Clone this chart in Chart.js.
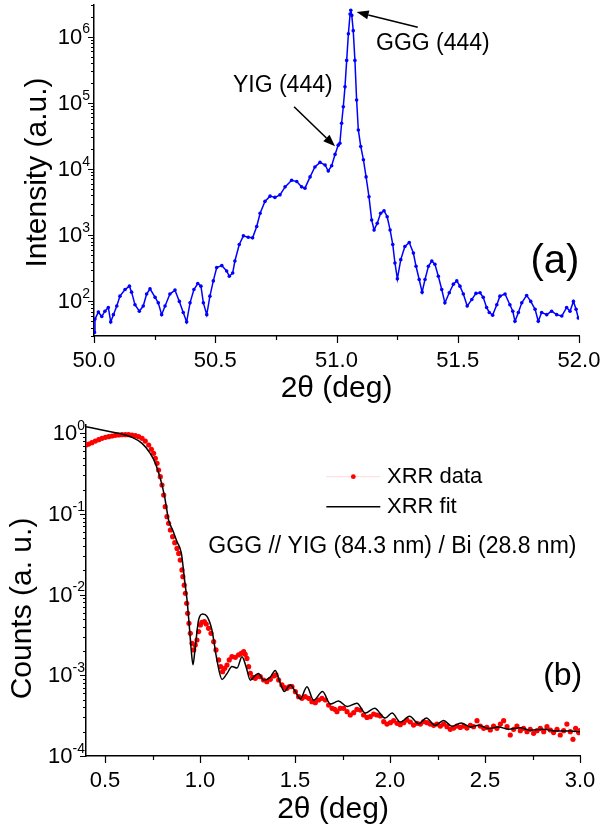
<!DOCTYPE html>
<html>
<head>
<meta charset="utf-8">
<script src="https://cdn.jsdelivr.net/npm/chart.js@4.4.0/dist/chart.umd.min.js"></script>
<style>
  body { margin: 0; background: #fff; }
  #wrap { position: relative; width: 602px; height: 834px; }
  canvas { position: absolute; left: 0; }
  #xrd { top: 0; }
  #xrr { top: 410px; }
</style>
</head>
<body>
<div id="wrap">
  <canvas id="xrd" width="602" height="410"></canvas>
  <canvas id="xrr" width="602" height="424"></canvas>
</div>
<script>
// (a) XRD scan around the (444) reflection
const xrdAngle = [50.002, 50.004, 50.018, 50.032, 50.045, 50.059, 50.069, 50.080, 50.094, 50.107,
  50.128, 50.146, 50.155, 50.169, 50.187, 50.203, 50.217, 50.231, 50.252, 50.265,
  50.279, 50.293, 50.313, 50.334, 50.352, 50.368, 50.382, 50.396, 50.412, 50.428,
  50.441, 50.451, 50.465, 50.478, 50.492, 50.506, 50.527, 50.547, 50.558, 50.572,
  50.581, 50.599, 50.616, 50.636, 50.654, 50.671, 50.685, 50.705, 50.726, 50.746,
  50.767, 50.788, 50.815, 50.836, 50.856, 50.870, 50.891, 50.911, 50.932, 50.953,
  50.966, 50.980, 50.994, 51.007, 51.014, 51.021, 51.028, 51.035, 51.042, 51.049,
  51.056, 51.059, 51.063, 51.069, 51.076, 51.083, 51.090, 51.100, 51.111, 51.122,
  51.134, 51.145, 51.155, 51.168, 51.182, 51.196, 51.209, 51.221, 51.232, 51.241,
  51.251, 51.265, 51.282, 51.300, 51.317, 51.328, 51.341, 51.353, 51.365, 51.379,
  51.393, 51.406, 51.420, 51.434, 51.447, 51.465, 51.482, 51.496, 51.509, 51.523,
  51.539, 51.558, 51.575, 51.592, 51.605, 51.619, 51.630, 51.644, 51.661, 51.674,
  51.695, 51.715, 51.727, 51.736, 51.750, 51.764, 51.784, 51.801, 51.819, 51.832,
  51.846, 51.867, 51.887, 51.908, 51.929, 51.949, 51.963, 51.977, 51.988, 51.997];
const xrdIntensity = [34, 54, 69, 59, 71, 81, 49, 63, 85, 120,
  151, 170, 138, 89, 71, 85, 129, 155, 115, 95,
  63, 85, 129, 148, 100, 68, 49, 95, 151, 186,
  170, 95, 63, 120, 204, 324, 347, 288, 240, 269,
  407, 724, 977, 933, 912, 1350, 2140, 3240, 3890, 3720,
  4070, 5370, 6760, 6460, 5370, 5130, 7590, 10700, 12600, 11500,
  9330, 11200, 16600, 22900, 24500, 49000, 87100, 174000, 437000, 1100000,
  2190000, 2500000, 2090000, 1230000, 437000, 110000, 38900, 21900, 13800, 7590,
  3800, 1700, 1200, 1510, 2140, 2340, 1900, 1200, 724, 380,
  219, 427, 676, 776, 537, 339, 214, 138, 214, 339,
  407, 363, 240, 151, 95, 135, 182, 204, 170, 129,
  85, 107, 132, 135, 115, 81, 68, 62, 89, 120,
  129, 89, 71, 50, 68, 95, 123, 100, 76, 50,
  68, 63, 71, 63, 60, 81, 71, 100, 76, 56];

// (b) XRR measurement
const xrrAngle = [0.400, 0.414, 0.431, 0.449, 0.467, 0.484, 0.502, 0.519, 0.537, 0.554,
  0.572, 0.589, 0.607, 0.624, 0.642, 0.660, 0.677, 0.695, 0.712, 0.730,
  0.744, 0.756, 0.765, 0.774, 0.782, 0.791, 0.800, 0.809, 0.817, 0.826,
  0.835, 0.844, 0.856, 0.867, 0.879, 0.888, 0.896, 0.905, 0.910, 0.917,
  0.923, 0.930, 0.935, 0.942, 0.949, 0.958, 0.967, 0.975, 0.984, 0.993,
  1.002, 1.010, 1.023, 1.033, 1.045, 1.058, 1.072, 1.084, 1.098, 1.109,
  1.119, 1.130, 1.142, 1.154, 1.168, 1.186, 1.203, 1.217, 1.230, 1.238,
  1.247, 1.256, 1.265, 1.277, 1.291, 1.305, 1.317, 1.335, 1.352, 1.370,
  1.388, 1.400, 1.414, 1.431, 1.446, 1.458, 1.470, 1.484, 1.502, 1.519,
  1.537, 1.554, 1.572, 1.589, 1.607, 1.624, 1.642, 1.660, 1.677, 1.695,
  1.709, 1.721, 1.738, 1.756, 1.774, 1.791, 1.809, 1.826, 1.844, 1.861,
  1.879, 1.896, 1.914, 1.931, 1.949, 1.967, 1.984, 2.002, 2.019, 2.037,
  2.054, 2.072, 2.089, 2.107, 2.124, 2.142, 2.160, 2.177, 2.195, 2.212,
  2.230, 2.247, 2.265, 2.282, 2.300, 2.317, 2.335, 2.352, 2.370, 2.388,
  2.405, 2.423, 2.440, 2.458, 2.475, 2.493, 2.510, 2.528, 2.545, 2.563,
  2.581, 2.598, 2.616, 2.633, 2.651, 2.668, 2.686, 2.703, 2.721, 2.738,
  2.756, 2.774, 2.791, 2.809, 2.826, 2.844, 2.861, 2.879, 2.896, 2.914,
  2.931, 2.949, 2.963, 2.977, 2.993, 3.000];
const xrrCounts = [0.714, 0.734, 0.764, 0.800, 0.832, 0.863, 0.889, 0.906, 0.923, 0.941,
  0.950, 0.959, 0.959, 0.959, 0.950, 0.933, 0.906, 0.863, 0.800, 0.714,
  0.631, 0.563, 0.489, 0.424, 0.350, 0.289, 0.228, 0.171, 0.123, 0.0925,
  0.0764, 0.0632, 0.0522, 0.0440, 0.0374, 0.0324, 0.0268, 0.0202, 0.0167, 0.0131,
  0.0104, 0.0078, 0.00586, 0.00441, 0.00331, 0.00249, 0.00206, 0.00238, 0.00274, 0.00348,
  0.00420, 0.00453, 0.00462, 0.00432, 0.00382, 0.00331, 0.00261, 0.00206, 0.00155, 0.00128,
  0.00111, 0.00122, 0.00134, 0.00155, 0.00170, 0.00167, 0.00179, 0.00187, 0.00196, 0.00182,
  0.00162, 0.00128, 0.00106, 0.000944, 0.000917, 0.000980, 0.000962, 0.000874, 0.000834, 0.000891,
  0.000980, 0.00101, 0.000874, 0.000759, 0.000703, 0.000690, 0.000724, 0.000724, 0.000627, 0.000543,
  0.000518, 0.000543, 0.000518, 0.000471, 0.000458, 0.000494, 0.000518, 0.000494, 0.000428, 0.000390,
  0.000379, 0.000354, 0.000390, 0.000390, 0.000354, 0.000322, 0.000344, 0.000379, 0.000371, 0.000322,
  0.000301, 0.000307, 0.000331, 0.000322, 0.000313, 0.000266, 0.000249, 0.000259, 0.000274, 0.000254,
  0.000244, 0.000259, 0.000279, 0.000264, 0.000242, 0.000254, 0.000249, 0.000266, 0.000259, 0.000249,
  0.000240, 0.000249, 0.000235, 0.000249, 0.000231, 0.000214, 0.000222, 0.000235, 0.000226, 0.000235,
  0.000222, 0.000240, 0.000231, 0.000274, 0.000235, 0.000220, 0.000226, 0.000210, 0.000235, 0.000220,
  0.000249, 0.000274, 0.000231, 0.000182, 0.000214, 0.000235, 0.000206, 0.000220, 0.000200, 0.000214,
  0.000191, 0.000206, 0.000220, 0.000200, 0.000231, 0.000210, 0.000195, 0.000214, 0.000182, 0.000206,
  0.000249, 0.000200, 0.000161, 0.000220, 0.000195, 0.000206];

// (b) simulated fit
const fitAngle = [0.400, 0.484, 0.572, 0.642, 0.695, 0.738, 0.765, 0.791, 0.814, 0.835,
  0.856, 0.879, 0.902, 0.919, 0.932, 0.944, 0.954, 0.963, 0.975, 0.993,
  1.014, 1.037, 1.063, 1.089, 1.116, 1.142, 1.168, 1.195, 1.221, 1.242,
  1.265, 1.291, 1.308, 1.335, 1.370, 1.396, 1.423, 1.444, 1.475, 1.502,
  1.528, 1.563, 1.598, 1.645, 1.686, 1.729, 1.774, 1.826, 1.870, 1.919,
  1.975, 2.011, 2.054, 2.103, 2.151, 2.191, 2.238, 2.282, 2.326, 2.374,
  2.423, 2.466, 2.519, 2.572, 2.624, 2.686, 2.738, 2.808, 2.879, 2.949, 3.000];
const fitCounts = [1.205, 1.096, 0.998, 0.889, 0.748, 0.564, 0.424, 0.276, 0.163, 0.0839,
  0.0631, 0.0453, 0.0324, 0.0151, 0.00851, 0.00398, 0.00204, 0.00135, 0.00224, 0.0049,
  0.00575, 0.00537, 0.00363, 0.00155, 0.00089, 0.00105, 0.00129, 0.00123, 0.0017, 0.00129,
  0.00087, 0.001, 0.00105, 0.00087, 0.00095, 0.00115, 0.00079, 0.00063, 0.00076, 0.00063,
  0.00051, 0.00072, 0.00049, 0.00063, 0.00044, 0.00048, 0.00041, 0.00045, 0.00034, 0.00039,
  0.000295, 0.00034, 0.000263, 0.00031, 0.000251, 0.000295, 0.00024, 0.000275, 0.000234, 0.000257,
  0.000229, 0.00024, 0.000219, 0.000229, 0.000214, 0.000224, 0.000209, 0.000214, 0.000204, 0.000204, 0.0002];

const FONT = '"Liberation Sans", Arial, Helvetica, sans-serif';

function toPoints(xs, ys) {
  return xs.map((x, i) => ({ x: x, y: ys[i] }));
}

// tick marks (major + minor) and 10^n labels, drawn on top of the axes
const axisDecor = {
  id: 'axisDecor',
  afterDraw(chart, args, o) {
    const { ctx, chartArea: area, scales: { x, y } } = chart;
    ctx.save();
    ctx.strokeStyle = '#000';
    ctx.lineWidth = 1.2;
    ctx.beginPath();
    o.xMajor.forEach(v => {
      const p = Math.round(x.getPixelForValue(v)) + 0.5;
      ctx.moveTo(p, area.bottom); ctx.lineTo(p, area.bottom + 7);
    });
    o.xMinor.forEach(v => {
      const p = Math.round(x.getPixelForValue(v)) + 0.5;
      ctx.moveTo(p, area.bottom); ctx.lineTo(p, area.bottom + 4);
    });
    const lo = Math.floor(Math.log10(y.min)), hi = Math.ceil(Math.log10(y.max));
    for (let d = lo; d <= hi; d++) {
      for (let k = 1; k < 10; k++) {
        const v = k * Math.pow(10, d);
        if (v < y.min * 0.999 || v > y.max * 1.001) continue;
        const p = Math.round(y.getPixelForValue(v)) + 0.5;
        const len = k === 1 ? 6 : 3;
        ctx.moveTo(area.left - len, p); ctx.lineTo(area.left, p);
      }
    }
    ctx.stroke();

    ctx.fillStyle = '#000';
    ctx.textAlign = 'right';
    ctx.textBaseline = 'middle';
    for (let d = lo; d <= hi; d++) {
      const v = Math.pow(10, d);
      if (v < y.min * 0.999 || v > y.max * 1.001) continue;
      const p = y.getPixelForValue(v);
      const exp = String(d);
      ctx.font = '14px ' + FONT;
      const ew = ctx.measureText(exp).width;
      ctx.fillText(exp, area.left - o.labelGap, p - 7);
      ctx.font = '22px ' + FONT;
      ctx.fillText('10', area.left - o.labelGap - ew, p + 1);
    }

    // rotated y title
    ctx.save();
    ctx.translate(o.yTitleX, (area.top + area.bottom) / 2 + o.yTitleShift);
    ctx.rotate(-Math.PI / 2);
    ctx.textAlign = 'center';
    ctx.font = '30px ' + FONT;
    ctx.fillText(o.yTitle, 0, 0);
    ctx.restore();
    ctx.restore();
  }
};

// free text, arrows and legend placed in data coordinates
const notes = {
  id: 'notes',
  afterDraw(chart, args, o) {
    const { ctx, scales: { x, y } } = chart;
    ctx.save();
    ctx.fillStyle = '#000';
    ctx.strokeStyle = '#000';
    (o.arrows || []).forEach(a => {
      const x0 = x.getPixelForValue(a.from[0]), y0 = y.getPixelForValue(a.from[1]);
      const x1 = x.getPixelForValue(a.to[0]), y1 = y.getPixelForValue(a.to[1]);
      const ang = Math.atan2(y1 - y0, x1 - x0);
      const hl = 12, hw = 4.5;
      ctx.lineWidth = 1.6;
      ctx.beginPath();
      ctx.moveTo(x0, y0);
      ctx.lineTo(x1 - hl * Math.cos(ang), y1 - hl * Math.sin(ang));
      ctx.stroke();
      ctx.beginPath();
      ctx.moveTo(x1, y1);
      ctx.lineTo(x1 - hl * Math.cos(ang) + hw * Math.sin(ang), y1 - hl * Math.sin(ang) - hw * Math.cos(ang));
      ctx.lineTo(x1 - hl * Math.cos(ang) - hw * Math.sin(ang), y1 - hl * Math.sin(ang) + hw * Math.cos(ang));
      ctx.closePath();
      ctx.fill();
    });
    (o.texts || []).forEach(t => {
      ctx.font = t.size + 'px ' + FONT;
      ctx.textAlign = t.align || 'left';
      ctx.textBaseline = 'middle';
      ctx.fillText(t.text, x.getPixelForValue(t.at[0]), y.getPixelForValue(t.at[1]));
    });
    if (o.legend) {
      o.legend.forEach(item => {
        const ly = y.getPixelForValue(item.y);
        const xa = x.getPixelForValue(item.line[0]), xb = x.getPixelForValue(item.line[1]);
        ctx.strokeStyle = item.lineColor;
        ctx.lineWidth = item.lineWidth;
        ctx.beginPath(); ctx.moveTo(xa, ly); ctx.lineTo(xb, ly); ctx.stroke();
        if (item.dot) {
          ctx.fillStyle = item.dot;
          ctx.beginPath(); ctx.arc((xa + xb) / 2, ly, 2.4, 0, Math.PI * 2); ctx.fill();
        }
        ctx.fillStyle = '#000';
        ctx.font = '22px ' + FONT;
        ctx.textAlign = 'left';
        ctx.textBaseline = 'middle';
        ctx.fillText(item.text, x.getPixelForValue(item.textX), ly);
      });
    }
    ctx.restore();
  }
};

function xAxis(min, max, ticks, titlePad, height) {
  return {
    type: 'linear',
    min: min,
    max: max,
    afterBuildTicks: s => { s.ticks = ticks.map(v => ({ value: v })); },
    // fixed box height, and no extra room reserved for the end labels
    afterFit: s => { s.height = height; s.paddingLeft = 0; s.paddingRight = 0; },
    grid: { display: false, drawTicks: false },
    border: { display: true, color: '#000', width: 1.5 },
    ticks: {
      autoSkip: false, maxRotation: 0, padding: 12, color: '#000',
      font: { family: FONT, size: 22 },
      callback: v => v.toFixed(1)
    },
    title: {
      display: true, text: '2\u03b8 (deg)', color: '#000',
      font: { family: FONT, size: 30 }, padding: { top: 0, bottom: titlePad }
    }
  };
}

function yAxis(min, max, width) {
  return {
    type: 'logarithmic',
    min: min,
    max: max,
    afterFit: s => { s.width = width; s.paddingTop = 0; s.paddingBottom = 0; },
    grid: { display: false, drawTicks: false },
    border: { display: true, color: '#000', width: 1.5 },
    ticks: { display: false }
  };
}

Chart.defaults.font.family = FONT;

new Chart(document.getElementById('xrd'), {
  type: 'line',
  data: {
    datasets: [{
      data: toPoints(xrdAngle, xrdIntensity),
      borderColor: '#0000ff',
      backgroundColor: '#0000ff',
      borderWidth: 1.5,
      pointRadius: 1.8,
      pointBorderWidth: 0,
      tension: 0
    }]
  },
  options: {
    responsive: false,
    animation: false,
    devicePixelRatio: 1,
    layout: { padding: { left: 0, right: 23, top: 5, bottom: 0 } },
    scales: {
      x: xAxis(50, 52, [50, 50.5, 51, 51.5, 52], 3, 74),
      y: yAxis(30, 3e6, 94)
    },
    plugins: {
      legend: { display: false },
      tooltip: { enabled: false },
      axisDecor: {
        xMajor: [50, 50.5, 51, 51.5, 52],
        xMinor: [50.25, 50.75, 51.25, 51.75],
        labelGap: 4,
        yTitle: 'Intensity (a.u.)',
        yTitleX: 38,
        yTitleShift: 2
      },
      notes: {
        arrows: [
          { from: [51.335, 1.38e6], to: [51.083, 2.35e6] },
          { from: [50.825, 8.7e4], to: [50.994, 2.2e4] }
        ],
        texts: [
          { text: 'GGG (444)', at: [51.163, 7.8e5], size: 23 },
          { text: 'YIG (444)', at: [50.573, 1.8e5], size: 23 },
          { text: '(a)', at: [51.901, 400], size: 40, align: 'center' }
        ]
      }
    }
  },
  plugins: [axisDecor, notes]
});

new Chart(document.getElementById('xrr'), {
  type: 'line',
  data: {
    datasets: [{
      data: toPoints(fitAngle, fitCounts),
      borderColor: '#000',
      borderWidth: 1.5,
      pointRadius: 0,
      cubicInterpolationMode: 'monotone',
      order: 0
    }, {
      data: toPoints(xrrAngle, xrrCounts),
      borderColor: 'rgba(255,0,0,0.15)',
      backgroundColor: '#ff0000',
      borderWidth: 1,
      pointRadius: 2.6,
      pointBorderWidth: 0,
      order: 1
    }]
  },
  options: {
    responsive: false,
    animation: false,
    devicePixelRatio: 1,
    layout: { padding: { left: 0, right: 22, top: 15, bottom: 0 } },
    scales: {
      x: xAxis(0.4, 3.0, [0.5, 1.0, 1.5, 2.0, 2.5, 3.0], 6, 78),
      y: yAxis(1e-4, 1.264, 86)
    },
    plugins: {
      legend: { display: false },
      tooltip: { enabled: false },
      axisDecor: {
        xMajor: [0.5, 1.0, 1.5, 2.0, 2.5, 3.0],
        xMinor: [0.75, 1.25, 1.75, 2.25, 2.75],
        labelGap: 1,
        yTitle: 'Counts (a. u.)',
        yTitleX: 23,
        yTitleShift: 18
      },
      notes: {
        texts: [
          { text: 'GGG // YIG (84.3 nm) / Bi (28.8 nm)', at: [1.044, 0.0393], size: 23 },
          { text: '(b)', at: [2.909, 9.8e-4], size: 32, align: 'center' }
        ],
        legend: [
          { y: 0.289, line: [1.665, 1.949], lineColor: 'rgba(255,0,0,0.15)', lineWidth: 1, dot: '#ff0000', text: 'XRR data', textX: 1.984 },
          { y: 0.123, line: [1.665, 1.949], lineColor: '#000', lineWidth: 1.5, text: 'XRR fit', textX: 1.984 }
        ]
      }
    }
  },
  plugins: [axisDecor, notes]
});
</script>
</body>
</html>
